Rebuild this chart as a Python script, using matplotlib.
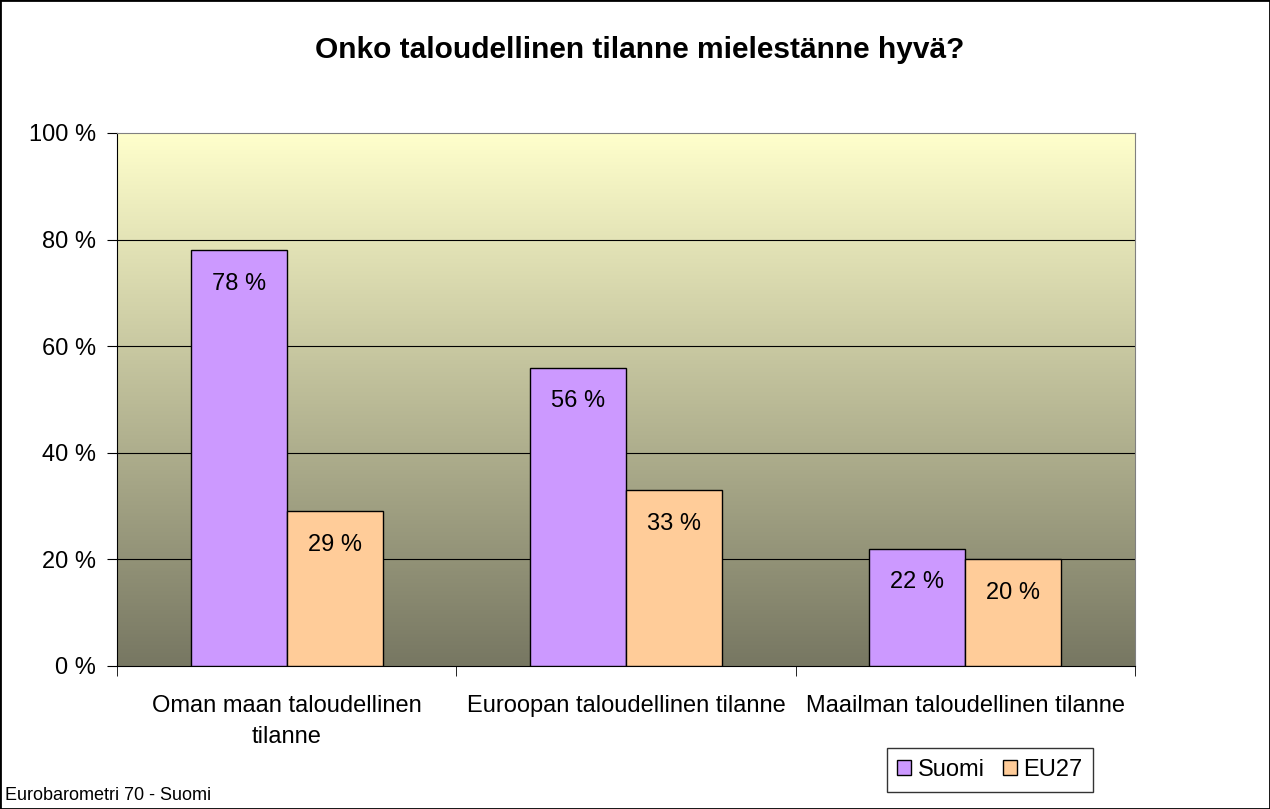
import numpy as np
import matplotlib.pyplot as plt
from matplotlib.colors import LinearSegmentedColormap
from matplotlib.patches import Rectangle

plt.rcParams['font.family'] = ['Liberation Sans', 'DejaVu Sans']

categories = ['Oman maan taloudellinen\ntilanne', 'Euroopan taloudellinen tilanne',
              'Maailman taloudellinen tilanne']
suomi = [78, 56, 22]
eu27 = [29, 33, 20]
yticks = [0, 20, 40, 60, 80, 100]

fig = plt.figure(figsize=(12.7, 8.09), dpi=100)
fig.patches.append(Rectangle((0, 0), 1, 1, transform=fig.transFigure, fill=False,
                             edgecolor='black', linewidth=2))
ax = fig.add_axes([0.0921, 0.1768, 0.8016, 0.6588])

# taustan liukuväri
cmap = LinearSegmentedColormap.from_list('bg', ['#777762', '#FFFFCC'])
grad = np.linspace(0, 1, 256).reshape(-1, 1)
ax.imshow(grad, cmap=cmap, aspect='auto', origin='lower',
          extent=[-0.5, 2.5, 0, 100], zorder=0)

x = np.arange(len(categories))
w = 0.283
b1 = ax.bar(x - w / 2, suomi, w, color='#CC99FF', edgecolor='black', linewidth=1,
            label='Suomi', zorder=3)
b2 = ax.bar(x + w / 2, eu27, w, color='#FFCC99', edgecolor='black', linewidth=1,
            label='EU27', zorder=3)
for bars, vals in ((b1, suomi), (b2, eu27)):
    for rect, v in zip(bars, vals):
        ax.text(rect.get_x() + rect.get_width() / 2, v - 6.3, f'{v} %',
                ha='center', va='center', fontsize=17, zorder=4)

ax.set_xlim(-0.5, 2.5)
ax.set_ylim(0, 100)
ax.set_yticks(yticks)
ax.set_yticklabels([f'{t} %' for t in yticks], fontsize=17)
for t in yticks[1:-1]:
    ax.axhline(t, color='black', linewidth=0.8, zorder=1)

ax.set_xticks(x)
ax.set_xticklabels(categories, fontsize=17, linespacing=1.55)
ax.tick_params(axis='x', length=0, pad=21)
ax.set_xticks([-0.5, 0.5, 1.5, 2.5], minor=True)
ax.tick_params(axis='x', which='minor', length=7, direction='out')
ax.tick_params(axis='y', length=7, direction='out', pad=8)

ax.spines['top'].set_color('gray')
ax.spines['right'].set_color('gray')
ax.spines['left'].set_color('black')
ax.spines['bottom'].set_color('black')

fig.text(0.504, 0.938, 'Onko taloudellinen tilanne mielestänne hyvä?',
         ha='center', va='center', fontsize=21.5, fontweight='bold')
fig.text(0.004, 0.017, 'Eurobarometri 70 - Suomi', ha='left', va='center', fontsize=13)

fig.legend(handles=[b1, b2], loc='center', bbox_to_anchor=(0.7795, 0.0482),
           ncol=2, fontsize=17, frameon=True, fancybox=False, edgecolor='black',
           handlelength=0.6, handleheight=0.6, handletextpad=0.25, columnspacing=0.8,
           borderpad=0.45, borderaxespad=0)

fig.savefig('out.png', dpi=100)
